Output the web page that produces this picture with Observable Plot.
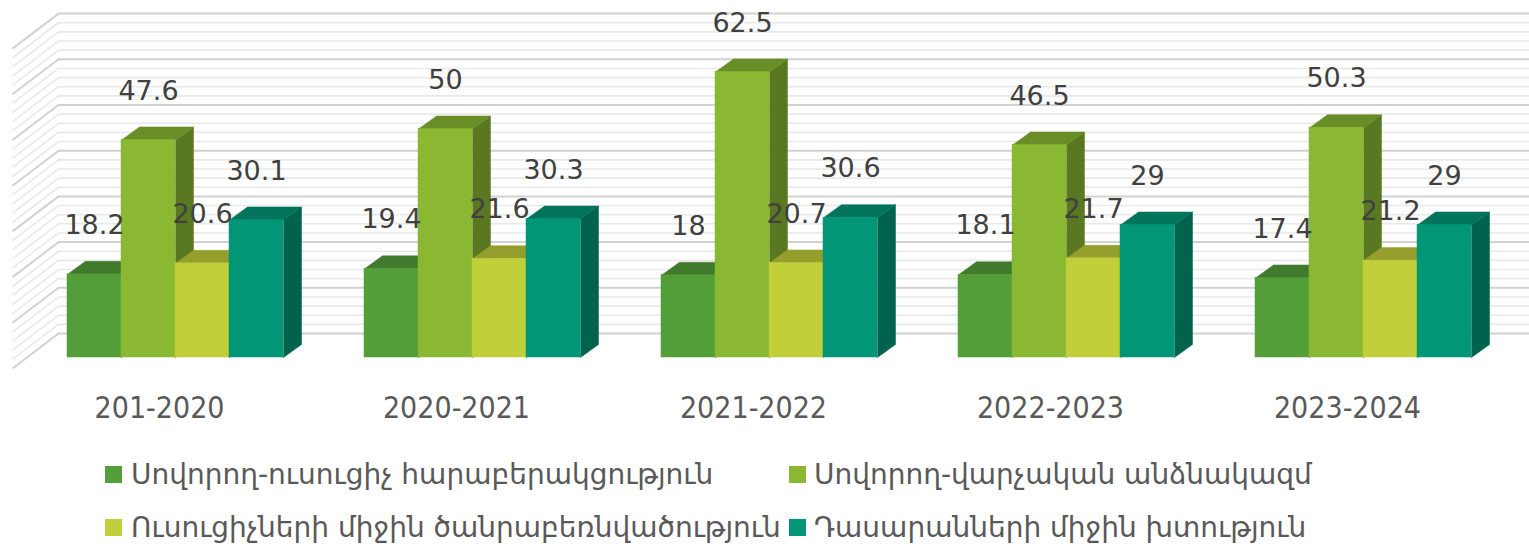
<!DOCTYPE html>
<html>
<head>
<meta charset="utf-8">
<script src="https://cdn.jsdelivr.net/npm/d3@7"></script>
<script src="https://cdn.jsdelivr.net/npm/@observablehq/plot@0.6"></script>
<style>
  html, body { margin: 0; padding: 0; background: #ffffff; }
  #wrap { width: 1529px; }
  #legend { position: relative; width: 1529px; height: 109px; font-family: "DejaVu Sans", sans-serif; font-size: 28px; color: #595959; }
  .sw { position: absolute; width: 17px; height: 17px; }
  .lt { position: absolute; height: 34px; line-height: 34px; white-space: nowrap; }
</style>
</head>
<body>
<div id="wrap">
  <div id="chart"></div>
  <div id="legend"></div>
</div>
<script>
// ---- data ----
const years = ["201-2020", "2020-2021", "2021-2022", "2022-2023", "2023-2024"];
const seriesNames = [
  "Սովորող-ուսուցիչ հարաբերակցություն",
  "Սովորող-վարչական անձնակազմ",
  "Ուսուցիչների միջին ծանրաբեռնվածություն",
  "Դասարանների միջին խտություն"
];
const studentTeacher = [18.2, 19.4, 18, 18.1, 17.4];
const studentAdmin = [47.6, 50, 62.5, 46.5, 50.3];
const teacherLoad = [20.6, 21.6, 20.7, 21.7, 21.2];
const classDensity = [30.1, 30.3, 30.6, 29, 29];
const frontColors = ["#549E39", "#8AB833", "#C0CF3A", "#029676"];
const topColors = ["#417A2C", "#6A8E27", "#949F2D", "#02745B"];
const sideColors = ["#376725", "#5A7821", "#7D8726", "#01624D"];
const majorTicks = [0, 10, 20, 30, 40, 50, 60, 70];
const minorTicks = d3.range(0, 70, 2).filter(v => v % 10 !== 0);

// ---- geometry (pseudo-3D) ----
const W = 1529, H = 440;
const groupPx = 297;               // px per category group
const ky = 4.57;                   // px per unit
const barW = 54 / groupPx;         // bar width in x units
const barStart = 40.5 / groupPx;   // offset of first bar within group
const depthX = 18 / groupPx;       // bar depth (x units)
const depthY = 13 / ky;            // bar depth (y units)
const backY = 24 / ky;             // back wall shift (y units)
const wallX = (58 - 26.5) / groupPx;
const wallLeftX = (12 - 26.5) / groupPx;
const wallDy = 35 / ky;

const allSeries = [studentTeacher, studentAdmin, teacherLoad, classDensity];

const fronts = [], polys = [], labels = [];
years.forEach((yr, i) => {
  allSeries.forEach((vals, j) => {
    const v = vals[i];
    const xl = i + barStart + j * barW, xr = xl + barW;
    fronts.push({xl, xr, v, color: frontColors[j]});
    labels.push({x: (xl + xr) / 2, v});
    const sid = `s${i}-${j}`, tid = `t${i}-${j}`;
    [[xr, 0], [xr + depthX, depthY], [xr + depthX, v + depthY], [xr, v]]
      .forEach(([x, y]) => polys.push({id: sid, x, y, color: sideColors[j], order: 0}));
    [[xl, v], [xl + depthX, v + depthY], [xr + depthX, v + depthY], [xr, v]]
      .forEach(([x, y]) => polys.push({id: tid, x, y, color: topColors[j], order: 1}));
  });
});
const sides = polys.filter(d => d.order === 0);
const tops = polys.filter(d => d.order === 1);

const chart = Plot.plot({
  width: W,
  height: H,
  marginLeft: 26.5,
  marginRight: W - 26.5 - 5 * groupPx,
  marginTop: 357 - 70 * ky,
  marginBottom: H - 357,
  x: {type: "linear", domain: [0, 5], axis: null},
  y: {type: "linear", domain: [0, 70], axis: null},
  color: {type: "identity"},
  style: {background: "white", overflow: "visible"},
  marks: [
    // back wall grid
    Plot.ruleY(minorTicks, {y: d => d + backY, x1: wallX, x2: 5.06, stroke: "#e9e9e9", strokeWidth: 1.6}),
    Plot.ruleY(majorTicks, {y: d => d + backY, x1: wallX, x2: 5.06, stroke: "#d2d2d2", strokeWidth: 2}),
    // side wall grid
    Plot.link(minorTicks, {x1: wallX, y1: d => d + backY, x2: wallLeftX, y2: d => d + backY - wallDy, stroke: "#e9e9e9", strokeWidth: 1.6}),
    Plot.link(majorTicks, {x1: wallX, y1: d => d + backY, x2: wallLeftX, y2: d => d + backY - wallDy, stroke: "#d2d2d2", strokeWidth: 2}),
    // bar sides and tops
    Plot.line(sides, {x: "x", y: "y", z: "id", fill: "color", stroke: "color", strokeWidth: 0.5, curve: "linear-closed"}),
    Plot.line(tops, {x: "x", y: "y", z: "id", fill: "color", stroke: "color", strokeWidth: 0.5, curve: "linear-closed"}),
    // bar fronts
    Plot.rect(fronts, {x1: "xl", x2: "xr", y1: 0, y2: "v", fill: "color", stroke: "color", strokeWidth: 0.5}),
    // value labels
    Plot.text(labels, {x: "x", y: "v", text: d => String(d.v), dy: -49, fontSize: 27, fontFamily: "DejaVu Sans", fill: "#404040"}),
    // category labels
    Plot.text(years, {x: (d, i) => i + 0.5, y: 0, text: d => d, dy: 51, dx: -16, fontSize: 30, fontFamily: "DejaVu Sans Condensed, DejaVu Sans", fill: "#595959"})
  ]
});
document.getElementById("chart").appendChild(chart);

// ---- legend ----
const legend = document.getElementById("legend");
const legendPos = [
  {sx: 105, tx: 131, cy: 34.5},
  {sx: 789, tx: 814, cy: 34.5},
  {sx: 105, tx: 131, cy: 87.5},
  {sx: 789, tx: 814, cy: 87.5}
];
seriesNames.forEach((name, j) => {
  const p = legendPos[j];
  const sw = document.createElement("div");
  sw.className = "sw";
  sw.style.left = p.sx + "px";
  sw.style.top = (p.cy - 8.5) + "px";
  sw.style.background = frontColors[j];
  legend.appendChild(sw);
  const t = document.createElement("div");
  t.className = "lt";
  t.style.left = p.tx + "px";
  t.style.top = (p.cy - 17) + "px";
  t.textContent = name;
  legend.appendChild(t);
});
</script>
</body>
</html>
